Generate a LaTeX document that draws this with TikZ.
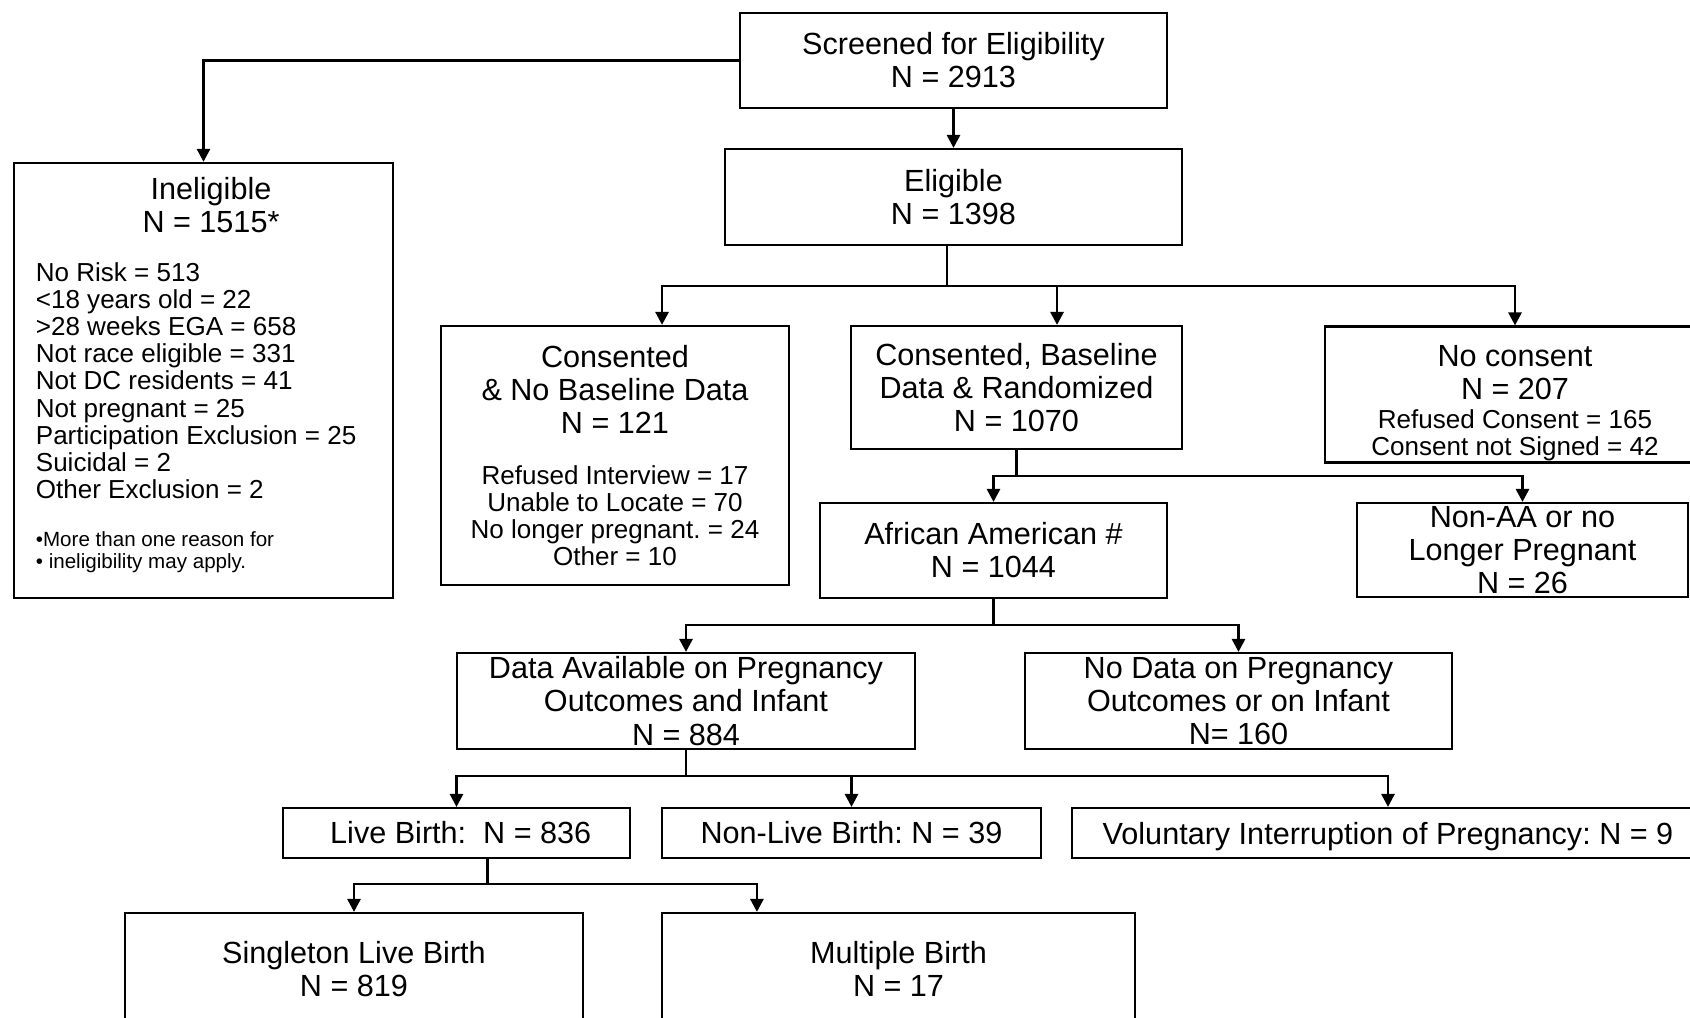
\documentclass[tikz,border=0pt]{standalone}
\usepackage{fontspec}
\setmainfont{Liberation Sans}
\frenchspacing
\usetikzlibrary{arrows.meta}
\newcommand{\titlesize}{\fontsize{8.7pt}{9.4pt}\selectfont\spaceskip=\fontdimen2\font\relax}
\newcommand{\listsize}{\fontsize{7.4pt}{7.7pt}\selectfont\spaceskip=\fontdimen2\font\relax}
\newcommand{\notesize}{\fontsize{5.85pt}{6.15pt}\selectfont\spaceskip=\fontdimen2\font\relax}
\tikzstyle{stage} = [
  draw,
  rectangle,
  line width=0.6pt,
  inner sep=0pt,
  align=center,
  font=\titlesize,
]
\tikzstyle{flow} = [
  line width=0.8pt,
]
\tikzstyle{feed} = [
  flow,
  -{Triangle[length=1.3mm,width=1.3mm]},
]

\begin{document}
\begin{tikzpicture}[
    x=0.01cm,
    y=-0.01cm,
  ]
  \useasboundingbox (0,0) rectangle (1690,1017);
  \node[
    stage,
    minimum width=4.27cm,
    minimum height=0.95cm,
  ](screen) at (953.5,60.5) {Screened for Eligibility\\N = 2913};
  \node[
    stage,
    minimum width=4.57cm,
    minimum height=0.96cm,
  ](elig) at (953.5,197) {Eligible\\N = 1398};
  \node[
    stage,
    align=left,
    text width=3.35cm,
    inner xsep=0.22cm,
    minimum width=3.79cm,
    minimum height=4.35cm,
  ](inelig) at (203.5,380.5) {{\centering\titlesize\hspace*{0.15cm}Ineligible\\\hspace*{0.15cm}N = 1515*\par}
    \vspace{6.3pt}
    {\listsize No Risk = 513\\<18 years old = 22\\>28 weeks EGA = 658\\
      Not race eligible = 331\\Not DC residents = 41\\Not pregnant = 25\\
      Participation Exclusion = 25\\Suicidal = 2\\Other Exclusion = 2\par}
    \vspace{7.6pt}
    {\notesize •More than one reason for\\• ineligibility may apply.\par}
    \nointerlineskip\vbox to 3.2pt{}};
  \node[
    stage,
    text width=3.3cm,
    minimum width=3.48cm,
    minimum height=2.59cm,
  ](nobase) at (615,455.5) {\titlesize Consented\\\& No Baseline Data\\N = 121\par
    \vspace{6.7pt}
    {\listsize Refused Interview = 17\\Unable to Locate = 70\\
      No longer pregnant. = 24\\Other = 10\par}};
  \node[
    stage,
    minimum width=3.31cm,
    minimum height=1.23cm,
  ](base) at (1016.5,387.5) {Consented, Baseline\\Data \& Randomized\\N = 1070};
  \node[
    stage,
    minimum width=3.8cm,
    minimum height=1.36cm,
  ](nocons) at (1515,394.5) {\rule{0pt}{11pt}No consent\\N = 207\\[-1.2pt]
    {\listsize Refused Consent = 165}\\[-1.5pt]{\listsize Consent not Signed = 42}};
  \node[
    stage,
    minimum width=3.47cm,
    minimum height=0.95cm,
  ](aa) at (993.5,550.5) {African American \#\\N = 1044};
  \node[
    stage,
    minimum width=3.31cm,
    minimum height=0.94cm,
  ](nonaa) at (1522.5,550) {Non-AA or no\\Longer Pregnant\\N = 26};
  \node[
    stage,
    minimum width=4.58cm,
    minimum height=0.96cm,
  ](avail) at (686,701) {Data Available on Pregnancy\\Outcomes and Infant\\N = 884};
  \node[
    stage,
    minimum width=4.27cm,
    minimum height=0.96cm,
  ](nodata) at (1238.5,701) {No Data on Pregnancy\\Outcomes or on Infant\\N= 160};
  \node[
    stage,
    minimum width=3.47cm,
    minimum height=0.5cm,
  ](live) at (456.5,833) {\ Live Birth:\ \ N = 836};
  \node[
    stage,
    minimum width=3.79cm,
    minimum height=0.5cm,
  ](nonlive) at (851.5,833) {Non-Live Birth: N = 39};
  \node[
    stage,
    text depth=0pt,
    minimum width=6.32cm,
    minimum height=0.5cm,
  ](volint) at (1388,833) {Voluntary Interruption of Pregnancy: N = 9};
  \node[
    stage,
    minimum width=4.58cm,
    minimum height=1.12cm,
  ](single) at (354,969) {Singleton Live Birth\\N = 819};
  \node[
    stage,
    minimum width=4.73cm,
    minimum height=1.12cm,
  ](multi) at (898.5,969) {Multiple Birth\\N = 17};
  \coordinate (tier1) at (0,286);
  \coordinate (tier2) at (0,476);
  \coordinate (tier3) at (0,625);
  \coordinate (tier4) at (0,776);
  \coordinate (tier5) at (0,884);
  \draw[feed] (screen.west) -| (inelig.north);
  \draw[feed] (screen.south) -- (elig.north);
  \draw[flow] ([xshift=-0.65mm]elig.south) -- ([xshift=-0.65mm]elig.south |- tier1) coordinate (split1);
  \draw[feed] (split1) -| ([xshift=4.7mm]nobase.north);
  \draw[feed] (split1) -| ([xshift=4.05mm]base.north);
  \draw[feed] (split1) -| (nocons.north);
  \draw[flow] (base.south) -- (base.south |- tier2) coordinate (split2);
  \draw[feed] (split2) -| (aa.north);
  \draw[feed] (split2) -| (nonaa.north);
  \draw[flow] (aa.south) -- (aa.south |- tier3) coordinate (split3);
  \draw[feed] (split3) -| (avail.north);
  \draw[feed] (split3) -| (nodata.north);
  \draw[flow] (avail.south) -- (avail.south |- tier4) coordinate (split4);
  \draw[feed] (split4) -| (live.north);
  \draw[feed] (split4) -| (nonlive.north);
  \draw[feed] (split4) -| (volint.north);
  \draw[flow] ([xshift=3.1mm]live.south) -- ([xshift=3.1mm]live.south |- tier5) coordinate (split5);
  \draw[feed] (split5) -| (single.north);
  \draw[feed] (split5) -| ([xshift=-14.15mm]multi.north);
\end{tikzpicture}
\end{document}
